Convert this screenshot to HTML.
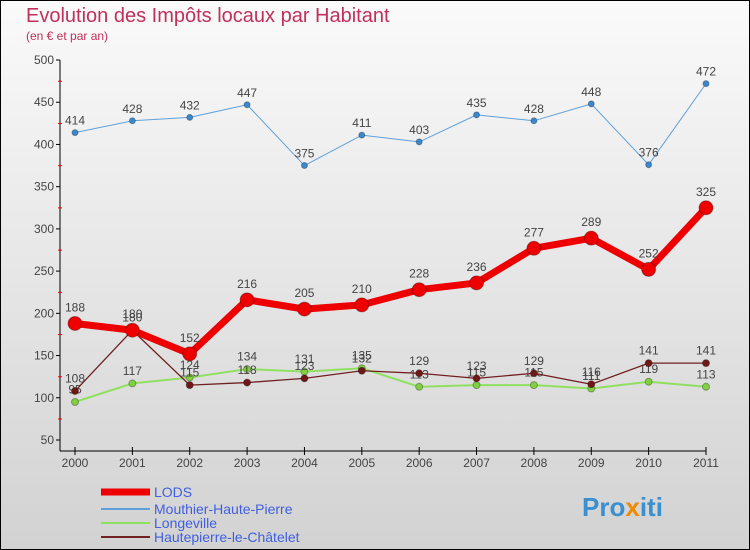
<!DOCTYPE html>
<html><head><meta charset="utf-8"><style>
body{margin:0;width:750px;height:550px;overflow:hidden}
svg{display:block}
text{font-family:"Liberation Sans",sans-serif}
</style></head><body>
<svg width="750" height="550">
<defs><linearGradient id="bg" x1="0" y1="0" x2="0" y2="1"><stop offset="0" stop-color="#fafafa"/><stop offset="1" stop-color="#d2d2d2"/></linearGradient></defs>
<rect x="0.5" y="0.5" width="749" height="549" fill="url(#bg)" stroke="#000"/>
<text x="26" y="22" font-size="20" fill="#c0305a">Evolution des Impôts locaux par Habitant</text>
<text x="26" y="40" font-size="12" fill="#c0305a">(en € et par an)</text>
<g id="axes"></g>
<g id="series"></g>
<g id="legend"></g>
<text x="582" y="516" font-size="26" font-weight="bold" fill="#3a8fd0">Pro<tspan fill="#f08a00">x</tspan>iti</text>
</svg>
<script>
const years=["2000","2001","2002","2003","2004","2005","2006","2007","2008","2009","2010","2011"];
const yTicks=[50,100,150,200,250,300,350,400,450,500];
const lods=[188,180,152,216,205,210,228,236,277,289,252,325];
const mouthier=[414,428,432,447,375,411,403,435,428,448,376,472];
const longeville=[95,117,124,134,131,135,113,115,115,111,119,113];
const hautepierre=[108,180,115,118,123,132,129,123,129,116,141,141];
const NS="http://www.w3.org/2000/svg";
function X(i){return 75+i*(706-75)/11;}
function Y(v){return 440-(v-50)*(380/450);}
function mk(t,a,p){const e=document.createElementNS(NS,t);for(const k in a)e.setAttribute(k,a[k]);p.appendChild(e);return e;}
const ax=document.getElementById('axes');
let e=mk('line',{x1:60,y1:60,x2:60,y2:451,stroke:'#000'},ax);


e=mk('line',{x1:60,y1:451,x2:706,y2:451,stroke:'#000'},ax);


yTicks.forEach(v=>{const y=Y(v);
 mk('line',{x1:56,y1:y,x2:60,y2:y,stroke:'#000'},ax);
 if(v<500)mk('line',{x1:58,y1:y-21,x2:62,y2:y-21,stroke:'#e00'},ax);
 const t=mk('text',{x:54,y:y+4,'font-size':12,fill:'#444','text-anchor':'end'},ax);t.textContent=v;
 
 });
years.forEach((yr,i)=>{const x=X(i);
 mk('line',{x1:x,y1:447,x2:x,y2:455,stroke:'#000'},ax);
 const t=mk('text',{x:x,y:467,'font-size':12,fill:'#444','text-anchor':'middle'},ax);t.textContent=yr;
 
 });
const sg=document.getElementById('series');
function series(d,col,w,r,name,mcol){
 const g=mk('g',{},sg);
 
 
 mk('polyline',{points:d.map((v,i)=>X(i)+','+Y(v)).join(' '),fill:'none',stroke:col,'stroke-width':w,'stroke-linejoin':'round'},g);
 d.forEach((v,i)=>{const c=mk('circle',{cx:X(i),cy:Y(v),r:r,fill:mcol,stroke:'rgba(0,0,0,0.3)'},g);
  
  
  const t=mk('text',{x:X(i),y:Y(v)-(r+5),'font-size':12,fill:'#444','text-anchor':'middle'},g);t.textContent=v;
  
  });
}
series(mouthier,'#5fa0d8',1,3,'series-mouthier','#3a88d0');
series(longeville,'#90e060',2,3.5,'series-longeville','#80d040');
series(hautepierre,'#702020',1.3,3.5,'series-hautepierre','#701818');
series(lods,'#ee0000',7,7,'series-lods','#ee0000');
const lg=document.getElementById('legend');
[["LODS","#ee0000",7],["Mouthier-Haute-Pierre","#5fa0d8",2],["Longeville","#90e060",2],["Hautepierre-le-Châtelet","#702020",2]].forEach((s,i)=>{
 const y=[492,509,523,537][i];
 const g=mk('g',{},lg);
 
 
 mk('line',{x1:101,y1:y,x2:150,y2:y,stroke:s[1],'stroke-width':s[2]},g);
 const t=mk('text',{x:154,y:y+5,'font-size':14,fill:'#4060e0'},g);t.textContent=s[0];});
</script>
</body></html>
